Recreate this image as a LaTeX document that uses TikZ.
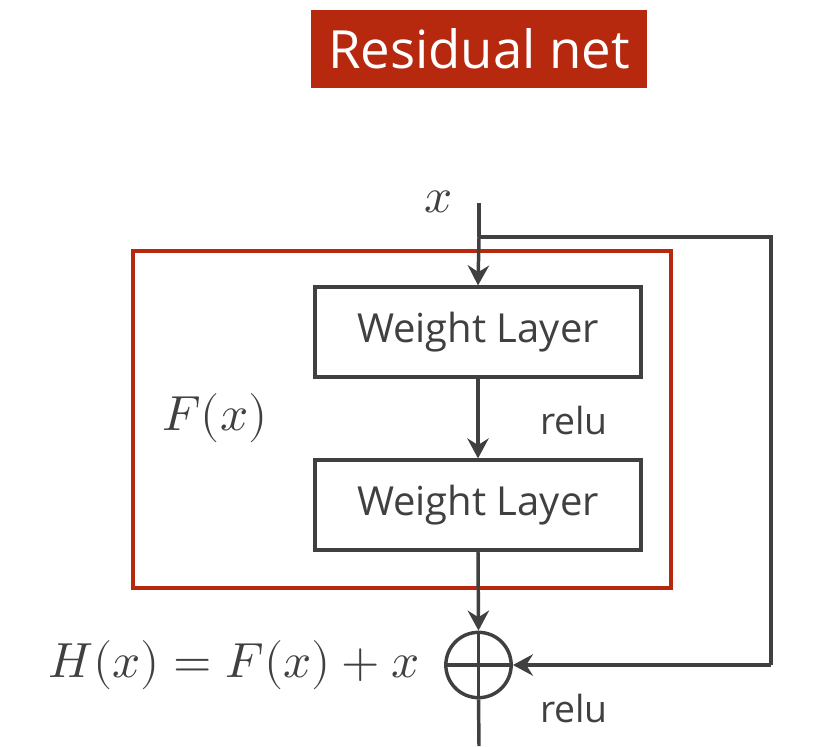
\documentclass[tikz,border=0pt]{standalone}
\usepackage{fontspec}
\usepackage{unicode-math}
\setmainfont{Open Sans}
\setmathfont{Latin Modern Math}
\usetikzlibrary{arrows.meta}
\definecolor{titlered}{HTML}{B7290F}
\definecolor{boxred}{HTML}{B7290F}
\definecolor{ink}{HTML}{404040}
\begin{document}
\begin{tikzpicture}[x=0.75pt,y=-0.75pt,
  line/.style={draw=ink,line width=2.6pt},
  arr/.style={line,-{Stealth[length=15pt,width=16pt,inset=5pt]}},
  wbox/.style={draw=ink,line width=2.4pt,minimum width=244.5pt,minimum height=67.5pt,inner sep=0pt,font=\fontsize{30}{34}\selectfont,text=ink},
  lbl/.style={text=ink,inner sep=0pt,font=\fontsize{28}{32}\selectfont},
  mth/.style={text=ink,inner sep=0pt,font=\fontsize{37}{40}\selectfont}]
\useasboundingbox (0,0) rectangle (837,746);
\node[fill=titlered,text=white,minimum width=252pt,minimum height=58.5pt,inner sep=0pt,font=\fontsize{39.5}{44}\selectfont] (title) at (479,49) {Residual net};
\draw[boxred,line width=2.3pt] (133,251) rectangle (671,588);
\node[wbox] (w1) at (478,332) {Weight Layer};
\node[wbox] (w2) at (478,505) {Weight Layer};
\coordinate (top) at (479,203);
\coordinate (br) at (479,237);
\coordinate (rt) at (771,237);
\coordinate (rb) at (771,665);
\coordinate (bot) at (479,746);
\node[circle,draw=ink,line width=2.6pt,minimum size=49pt,inner sep=0pt] (sum) at (478.5,665) {};
\draw[line] (sum.west) -- (sum.east);
\draw[line] (top) -- (br);
\draw[arr] (br) -- (w1.north);
\draw[arr] (w1.south) -- (w2.north);
\draw[arr] (w2.south) -- (sum.north);
\draw[line] (sum.north) -- (sum.south);
\draw[line] (sum.south) -- (bot);
\draw[line,line join=miter] (br) -- (rt) -- (rb);
\draw[arr] (rb) -- (sum.east);
\node[lbl] (r1) at (574,420) {relu};
\node[lbl] (r2) at (574,708) {relu};
\node[mth] (x) at (439,202) {$x$};
\node[mth] (F) at (215,418) {$F(x)$};
\node[mth] (H) at (234,665) {$H(x)=F(x)+x$};
\end{tikzpicture}
\end{document}
